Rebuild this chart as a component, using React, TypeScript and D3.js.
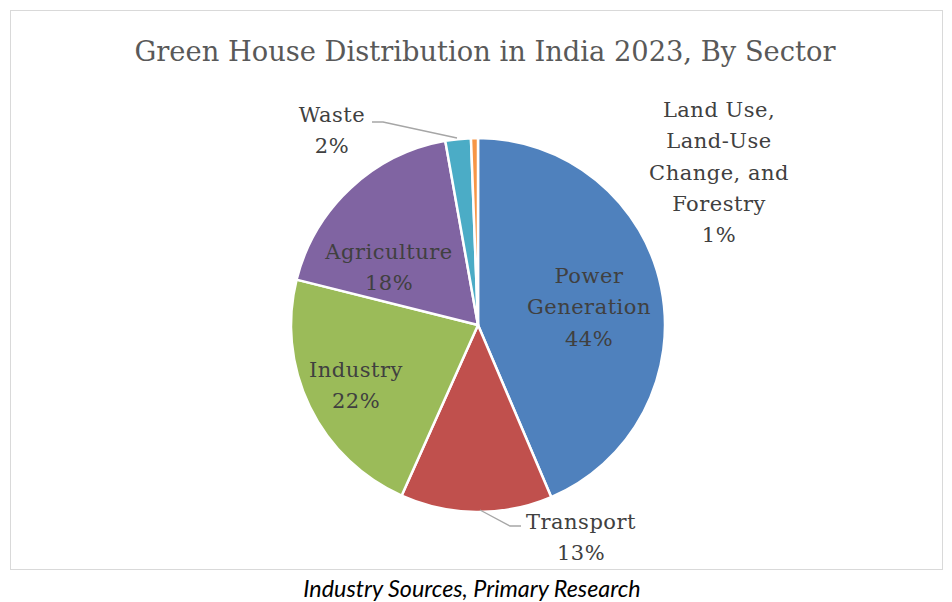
import React from "react";
import * as d3 from "d3";

const categories = [
  "Power Generation",
  "Transport",
  "Industry",
  "Agriculture",
  "Waste",
  "Land Use, Land-Use Change, and Forestry",
];
const values = [43.6, 13.1, 22.2, 18.3, 2.2, 0.6];
const percentLabels = ["44%", "13%", "22%", "18%", "2%", "1%"];
const labelLines = [
  ["Power", "Generation"],
  ["Transport"],
  ["Industry"],
  ["Agriculture"],
  ["Waste"],
  ["Land Use,", "Land-Use", "Change, and", "Forestry"],
];
const colors = ["#4F81BD", "#C0504D", "#9BBB59", "#8064A2", "#4BACC6", "#F79646"];

const titleText = "Green House Distribution in India 2023, By Sector";
const footerText = "Industry Sources, Primary Research";

// layout (label centers: x, first-line y)
const labelPos: [number, number][] = [
  [589, 276],
  [581, 522],
  [356, 370],
  [389, 252],
  [332, 115],
  [719, 110],
];

export default function App() {
  const W = 952;
  const H = 602;
  const cx = 478;
  const cy = 325;
  const r = 187;
  const lineH = 31.3;

  const pie = d3
    .pie<number>()
    .sort(null)
    .value((d) => d);
  const arcs = pie(values);
  const arc = d3.arc<d3.PieArcDatum<number>>().innerRadius(0).outerRadius(r);

  const font = "'DejaVu Serif', serif";

  // leader lines
  const leaders: { idx: number; pts: [number, number][] }[] = [
    { idx: 1, pts: [[480, 510], [510, 526], [521, 526]] },
    { idx: 4, pts: [[372, 122], [383, 122], [457, 138]] },
  ];
  const line = d3.line();

  return (
    <svg
      width={W}
      height={H}
      style={{ position: "absolute", left: 0, top: 0, background: "#fff" }}
    >
      <rect x={0} y={0} width={W} height={H} fill="#fff" />
      <rect
        x={10.5}
        y={10.5}
        width={932}
        height={559}
        fill="#fff"
        stroke="#D9D9D9"
        strokeWidth={1}
      />
      <text
        x={485}
        y={61}
        textAnchor="middle"
        fontFamily={font}
        fontSize={27.3}
        fill="#595959"
      >
        {titleText}
      </text>
      <g transform={`translate(${cx},${cy})`}>
        {arcs.map((a, i) => (
          <path
            key={categories[i]}
            d={arc(a) || ""}
            fill={colors[i]}
            stroke="#fff"
            strokeWidth={2.5}
            strokeLinejoin="round"
          />
        ))}
      </g>
      {leaders.map((l) => (
        <path
          key={l.idx}
          d={line(l.pts) || ""}
          fill="none"
          stroke="#A6A6A6"
          strokeWidth={1.3}
        />
      ))}
      {labelLines.map((lines, i) => {
        const [lx, ly] = labelPos[i];
        const all = [...lines, percentLabels[i]];
        return (
          <text
            key={categories[i]}
            textAnchor="middle"
            fontFamily={font}
            fontSize={21}
            letterSpacing={0.5}
            fill="#404040"
          >
            {all.map((t, j) => (
              <tspan key={j} x={lx} y={ly + j * lineH} dominantBaseline="central">
                {t}
              </tspan>
            ))}
          </text>
        );
      })}
      <text
        x={472}
        y={597}
        textAnchor="middle"
        fontFamily="Lato, 'Open Sans', sans-serif"
        fontStyle="italic"
        fontSize={23.3}
        fill="#000"
      >
        {footerText}
      </text>
    </svg>
  );
}
